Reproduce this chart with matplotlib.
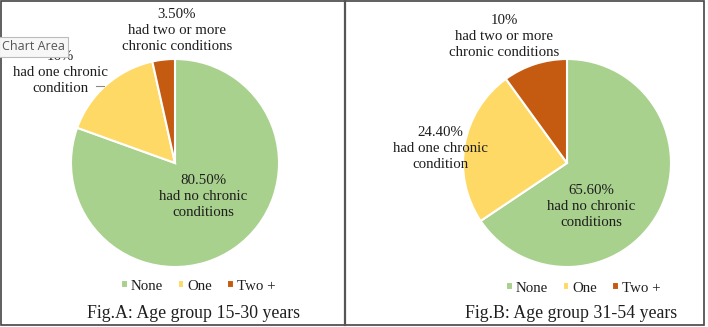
import matplotlib
matplotlib.use("Agg")
import matplotlib.pyplot as plt
from matplotlib.patches import Rectangle
from matplotlib.lines import Line2D

W, H = 708, 327

categories = ["None", "One", "Two +"]
colors = ["#A9D18E", "#FFD966", "#C55A11"]

values_a = [80.5, 16.0, 3.5]
values_b = [65.6, 24.4, 10.0]

labels_a = ["80.50%\nhad no chronic\nconditions",
            "16%\nhad one chronic\ncondition",
            "3.50%\nhad two or more\nchronic conditions"]
labels_b = ["65.60%\nhad no chronic\nconditions",
            "24.40%\nhad one chronic\ncondition",
            "10%\nhad two or more\nchronic conditions"]

caption_a = "Fig.A: Age group 15-30 years"
caption_b = "Fig.B: Age group 31-54 years"

SERIF = ["Liberation Serif", "DejaVu Serif"]
TXT = "#1E1E1E"

fig = plt.figure(figsize=(W / 100, H / 100), dpi=100)
fig.patch.set_facecolor("white")


def fx(x):
    return x / W


def fy(y):
    return 1 - y / H


def make_pie(cx, cy, r, values, labels, label_pos, legend_pos, caption, cap_pos):
    ax = fig.add_axes([fx(cx - r), fy(cy + r), 2 * r / W, 2 * r / H])
    wedges, _ = ax.pie(values, colors=colors, startangle=90, counterclock=False,
                       wedgeprops=dict(edgecolor="white", linewidth=1.5))
    ax.set_xlim(-1, 1)
    ax.set_ylim(-1, 1)
    ax.set_aspect("auto")
    ax.axis("off")
    for lab, (x, y) in zip(labels, label_pos):
        fig.text(fx(x), fy(y), lab, ha="center", va="center", family=SERIF,
                 fontsize=10.7, color=TXT, linespacing=1.3)
    fig.legend(wedges, categories, loc="center", bbox_to_anchor=(fx(legend_pos[0]), fy(legend_pos[1])),
               ncol=3, frameon=False, handlelength=0.45, handleheight=0.45,
               handletextpad=0.2, columnspacing=1.0,
               prop=dict(family=SERIF, size=10.7), labelcolor=TXT)
    fig.text(fx(cap_pos[0]), fy(cap_pos[1]), caption, ha="center", va="center",
             family=SERIF, fontsize=12.8, color=TXT)
    return ax


make_pie(175, 163, 104, values_a, labels_a,
         [(203, 196), (60, 72), (177, 30)], (198, 286), caption_a, (194, 314))
make_pie(567, 163, 104, values_b, labels_b,
         [(591, 207), (440, 149), (504, 37)], (583, 288), caption_b, (571, 314))

# leader line in Fig.A
fig.add_artist(Line2D([fx(96), fx(104)], [fy(86), fy(86)], color="#888888", lw=0.8))

# borders
fig.add_artist(Rectangle((fx(0.5), fy(325)), fx(704) - fx(0.5), fy(0.5) - fy(325),
                         fill=False, edgecolor="#444444", lw=1.2))
fig.add_artist(Line2D([fx(345), fx(345)], [fy(0.5), fy(325)], color="#555555", lw=1.6))

# "Chart Area" tooltip
fig.text(fx(2), fy(47), "Chart Area", ha="left", va="center", family=["Open Sans", "DejaVu Sans"],
         fontsize=9, color="#555555", zorder=10,
         bbox=dict(boxstyle="square,pad=0.25", facecolor="#F7F7F7", edgecolor="#BBBBBB", lw=0.8))

fig.savefig("out.png", dpi=100)
